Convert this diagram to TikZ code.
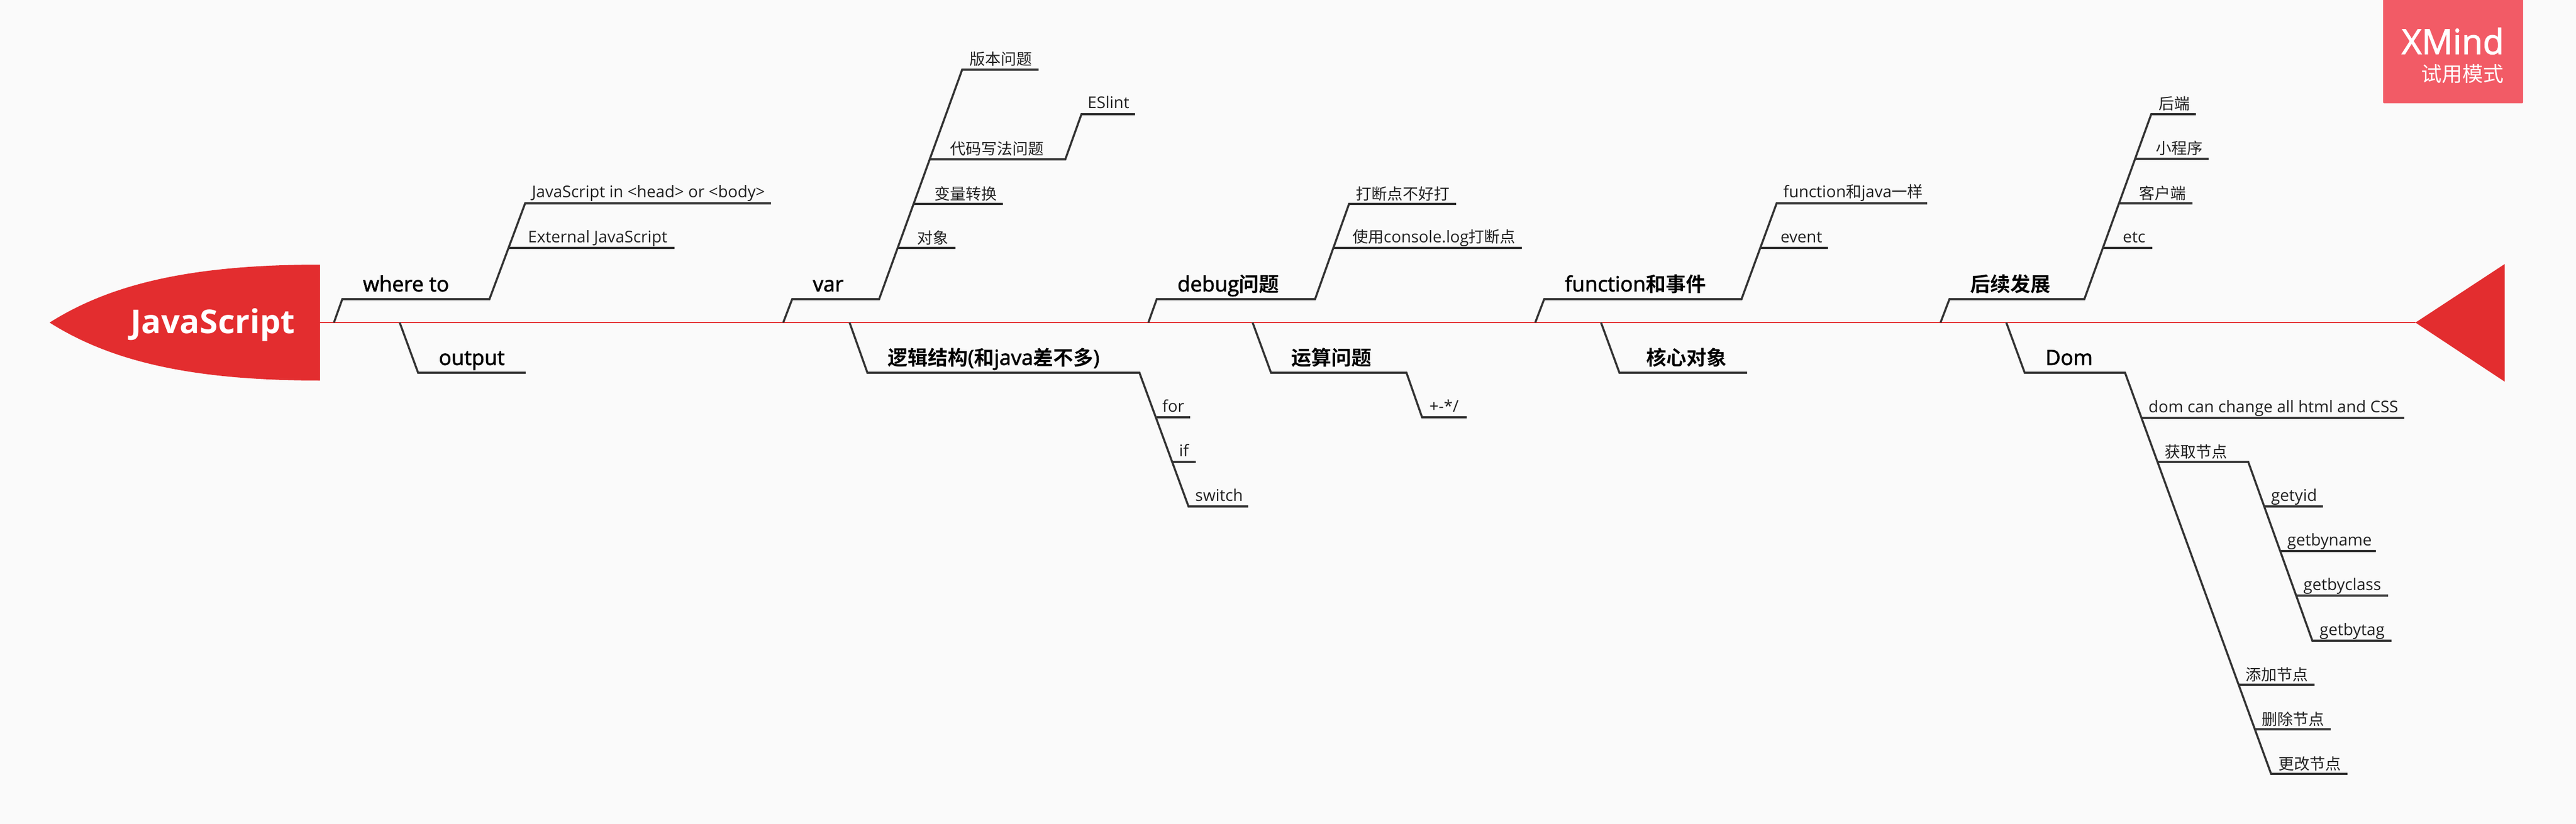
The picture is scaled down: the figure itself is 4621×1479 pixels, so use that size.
\documentclass[tikz,border=0pt]{standalone}
\usepackage{fontspec}
\setmainfont{Open Sans}
\newfontfamily\cjk{Noto Sans CJK SC}
\newfontfamily\cjkb{Noto Sans CJK SC}[UprightFont=* Bold]
\newfontfamily\med{Open Sans}[FakeBold=2]
\newfontfamily\heavy{Open Sans}[UprightFont=* Bold]
\newcommand{\zh}[1]{{\fontsize{28}{32}\selectfont\cjk #1}}
\newcommand{\zb}[1]{{\fontsize{36}{42}\selectfont\cjkb #1}}
\definecolor{ink}{HTML}{333333}
\definecolor{txt}{HTML}{222222}
\definecolor{fish}{HTML}{E32D2F}
\definecolor{badge}{HTML}{F25B66}
\definecolor{paper}{HTML}{FAFAFA}
\tikzset{
 link/.style={draw=ink,line width=3.6pt,line join=miter},
 spine/.style={draw=fish,line width=2.6pt},
 subt/.style={anchor=base west,inner sep=0pt,text=txt,font=\fontsize{29}{32}\selectfont},
 zsub/.style={subt,yshift=-2pt},
 topic/.style={anchor=base west,inner sep=0pt,text=black,font=\fontsize{37.5}{42}\selectfont\med},
}
\begin{document}
\begin{tikzpicture}[x=1pt,y=-1pt]
\useasboundingbox (0,0) rectangle (4621,1479);
\fill[paper] (0,0) rectangle (4621,1479);
% fish body
\coordinate (hs) at (574,579);
\coordinate (tt) at (4333,579);
\draw[spine] (hs) -- (tt);
\fill[fish] (89,579) .. controls (198,510) and (342,475) .. (574,475) -- (574,683) .. controls (342,683) and (198,648) .. (89,579) -- cycle;
\fill[fish] (tt) -- (4493,474) -- (4493,685) -- cycle;
\node[anchor=base west,inner sep=0pt,text=white,font=\fontsize{59}{60}\selectfont\heavy] (js) at (234,598) {JavaScript};
% badge
\fill[badge,rounded corners=2pt] (4275,-10) rectangle (4526,185.5);
\node[anchor=base east,inner sep=0pt,text=white,font=\fontsize{62}{64}\selectfont\med] (xm) at (4492,97) {XMind};
\node[anchor=base east,inner sep=0pt,text=white,font=\fontsize{37}{40}\selectfont\cjk] (try) at (4492,147) {试用模式};

% where to
\coordinate (a0) at (599,579); \coordinate (a1) at (614,537); \coordinate (a2) at (878,537); \coordinate (a3) at (942,365); \coordinate (a4) at (1383,365);
\coordinate (a5) at (912,445); \coordinate (a6) at (1210,445);
\draw[link] (a0) -- (a1) -- (a2) -- (a3) -- (a4);
\draw[link] (a5) -- (a6);
\node[topic] (t1) at (651,523) {where to};
\node[subt] (s11) at (954,355) {JavaScript in <head> or <body>};
\node[subt] (s12) at (947,435) {External JavaScript};

% output
\coordinate (b0) at (717,579); \coordinate (b1) at (750,669); \coordinate (b2) at (943,669);
\draw[link] (b0) -- (b1) -- (b2);
\node[topic] (t2) at (787,655) {output};

% var
\coordinate (c0) at (1405,579); \coordinate (c1) at (1421,537); \coordinate (c2) at (1577,537); \coordinate (c3) at (1726,125); \coordinate (c4) at (1863,125);
\coordinate (c5) at (1669,286); \coordinate (c6) at (1911,286); \coordinate (c7) at (1940,205); \coordinate (c8) at (2036,205);
\coordinate (c9) at (1640,366); \coordinate (c10) at (1799,366);
\coordinate (c11) at (1611,445); \coordinate (c12) at (1714,445);
\draw[link] (c0) -- (c1) -- (c2) -- (c3) -- (c4);
\draw[link] (c5) -- (c6) -- (c7) -- (c8);
\draw[link] (c9) -- (c10);
\draw[link] (c11) -- (c12);
\node[topic] (t3) at (1458,523) {var};
\node[zsub] (s31) at (1739,115) {\zh{版本问题}};
\node[subt] (s32) at (1951,195) {ESlint};
\node[zsub] (s33) at (1704,276) {\zh{代码写法问题}};
\node[zsub] (s34) at (1676,356) {\zh{变量转换}};
\node[zsub] (s35) at (1645,435) {\zh{对象}};

% logic
\coordinate (d0) at (1524,579); \coordinate (d1) at (1556,669); \coordinate (d2) at (2044,669); \coordinate (d3) at (2132,909); \coordinate (d4) at (2239,909);
\coordinate (d5) at (2075,749); \coordinate (d6) at (2135,749);
\coordinate (d7) at (2103,829); \coordinate (d8) at (2145,829);
\draw[link] (d0) -- (d1) -- (d2) -- (d3) -- (d4);
\draw[link] (d5) -- (d6);
\draw[link] (d7) -- (d8);
\node[topic] (t4) at (1592,655) {\zb{逻辑结构}(\zb{和}java\zb{差不多})};
\node[subt] (s41) at (2085,739) {for};
\node[subt] (s42) at (2115,819) {if};
\node[subt] (s43) at (2144,899) {switch};

% debug
\coordinate (e0) at (2060,579); \coordinate (e1) at (2075,537); \coordinate (e2) at (2359,537); \coordinate (e3) at (2420,366); \coordinate (e4) at (2612,366);
\coordinate (e5) at (2392,445); \coordinate (e6) at (2730,445);
\draw[link] (e0) -- (e1) -- (e2) -- (e3) -- (e4);
\draw[link] (e5) -- (e6);
\node[topic] (t5) at (2112,523) {debug\zb{问题}};
\node[zsub] (s51) at (2432,356) {\zh{打断点不好打}};
\node[subt] (s52) at (2426,435) {\zh{使用}console.log\zh{打断点}};

% calc
\coordinate (f0) at (2247,579); \coordinate (f1) at (2280,669); \coordinate (f2) at (2523,669); \coordinate (f3) at (2551,749); \coordinate (f4) at (2631,749);
\draw[link] (f0) -- (f1) -- (f2) -- (f3) -- (f4);
\node[topic] (t6) at (2316,655) {\zb{运算问题}};
\node[subt] (s61) at (2564,739) {+-*/};

% function
\coordinate (g0) at (2754,579); \coordinate (g1) at (2770,537); \coordinate (g2) at (3124,537); \coordinate (g3) at (3187,365); \coordinate (g4) at (3457,365);
\coordinate (g5) at (3158,445); \coordinate (g6) at (3279,445);
\draw[link] (g0) -- (g1) -- (g2) -- (g3) -- (g4);
\draw[link] (g5) -- (g6);
\node[topic] (t7) at (2807,523) {function\zb{和事件}};
\node[subt] (s71) at (3199,355) {function\zh{和}java\zh{一样}};
\node[subt] (s72) at (3194,435) {event};

% core
\coordinate (h0) at (2872,579); \coordinate (h1) at (2905,669); \coordinate (h2) at (3134,669);
\draw[link] (h0) -- (h1) -- (h2);
\node[topic] (t8) at (2953,655) {\zb{核心对象}};

% later
\coordinate (i0) at (3481,579); \coordinate (i1) at (3497,537); \coordinate (i2) at (3739,537); \coordinate (i3) at (3859,205); \coordinate (i4) at (3939,205);
\coordinate (i5) at (3831,285); \coordinate (i6) at (3962,285);
\coordinate (i7) at (3802,365); \coordinate (i8) at (3933,365);
\coordinate (i9) at (3773,445); \coordinate (i10) at (3861,445);
\draw[link] (i0) -- (i1) -- (i2) -- (i3) -- (i4);
\draw[link] (i5) -- (i6);
\draw[link] (i7) -- (i8);
\draw[link] (i9) -- (i10);
\node[topic] (t9) at (3534,523) {\zb{后续发展}};
\node[zsub] (s91) at (3872,195) {\zh{后端}};
\node[zsub] (s92) at (3867,275) {\zh{小程序}};
\node[zsub] (s93) at (3837,355) {\zh{客户端}};
\node[subt] (s94) at (3808,435) {etc};

% dom
\coordinate (j0) at (3599,579); \coordinate (j1) at (3632,669); \coordinate (j2) at (3812,669); \coordinate (j3) at (4074,1389); \coordinate (j4) at (4211,1389);
\coordinate (j5) at (3842,750); \coordinate (j6) at (4313,750);
\coordinate (j7) at (3871,829); \coordinate (j8) at (4033,829); \coordinate (j9) at (4148,1150); \coordinate (j10) at (4290,1150);
\coordinate (j11) at (4062,909); \coordinate (j12) at (4167,909);
\coordinate (j13) at (4091,989); \coordinate (j14) at (4262,989);
\coordinate (j15) at (4120,1069); \coordinate (j16) at (4284,1069);
\coordinate (j17) at (4015,1229); \coordinate (j18) at (4152,1229);
\coordinate (j19) at (4044,1309); \coordinate (j20) at (4181,1309);
\draw[link] (j0) -- (j1) -- (j2) -- (j3) -- (j4);
\draw[link] (j5) -- (j6);
\draw[link] (j7) -- (j8) -- (j9) -- (j10);
\draw[link] (j11) -- (j12);
\draw[link] (j13) -- (j14);
\draw[link] (j15) -- (j16);
\draw[link] (j17) -- (j18);
\draw[link] (j19) -- (j20);
\node[topic] (t10) at (3669,655) {Dom};
\node[subt] (s101) at (3854,740) {dom can change all html and CSS};
\node[zsub] (s102) at (3883,819) {\zh{获取节点}};
\node[subt] (s103) at (4074,899) {getyid};
\node[subt] (s104) at (4103,979) {getbyname};
\node[subt] (s105) at (4132,1059) {getbyclass};
\node[subt] (s106) at (4161,1140) {getbytag};
\node[zsub] (s107) at (4028,1219) {\zh{添加节点}};
\node[zsub] (s108) at (4057,1299) {\zh{删除节点}};
\node[zsub] (s109) at (4087,1379) {\zh{更改节点}};
\end{tikzpicture}
\end{document}
